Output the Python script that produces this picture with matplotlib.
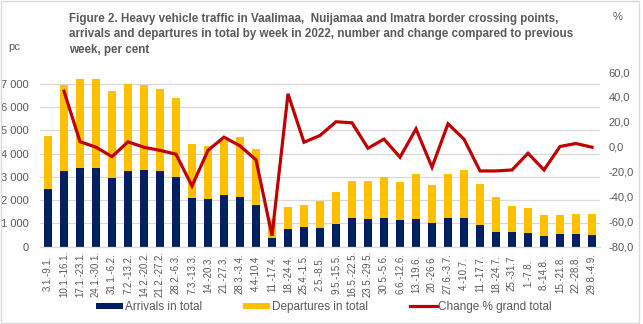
import numpy as np
import matplotlib
matplotlib.use("Agg")
import matplotlib.pyplot as plt
from matplotlib import font_manager
from matplotlib.ticker import FuncFormatter, MultipleLocator
from matplotlib.patches import Rectangle

weeks = ["3.1.-9.1.", "10.1.-16.1.", "17.1.-23.1.", "24.1.-30.1.", "31.1.-6.2.",
         "7.2.-13.2.", "14.2.-20.2.", "21.2.-27.2.", "28.2.-6.3.", "7.3.-13.3.",
         "14.-20.3.", "21.-27.3.", "28.3.-3.4.", "4.4-10.4", "11.-17.4.",
         "18.-24.4.", "25.4.-1.5.", "2.5.-8.5.", "9.5.-15.5.", "16.5.-22.5.",
         "23.5.-29.5.", "30.5.-5.6.", "6.6.-12.6.", "13.-19.6.", "20.-26.6",
         "27.6.-3.7.", "4.-10.7.", "11.-17.7.", "18.-24.7.", "25.-31.7",
         "1.-7.8.", "8.-14.8.", "15.-21.8.", "22.-28.8.", "29.8.-4.9."]

arrivals = [2490, 3230, 3400, 3400, 2970, 3230, 3310, 3270, 3010, 2070,
            2060, 2230, 2140, 1800, 370, 760, 840, 800, 970, 1230,
            1190, 1230, 1140, 1190, 1010, 1230, 1230, 930, 630, 630,
            580, 460, 540, 540, 500]

departures = [2280, 3730, 3810, 3810, 3730, 3770, 3650, 3520, 3390, 2350,
              2270, 2350, 2570, 2400, 820, 960, 950, 1160, 1380, 1610,
              1610, 1780, 1620, 1950, 1620, 1870, 2080, 1780, 1510, 1120,
              1080, 900, 820, 860, 900]

change_pct = [np.nan, 44.6, 4.2, -0.3, -7.8, 4.0, -0.3, -2.8, -5.9, -31.3,
              -2.8, 7.8, 0.8, -10.4, -71.2, 42.5, 3.7, 9.1, 20.1, 19.3,
              -1.1, 6.2, -8.3, 14.4, -16.3, 18.5, 6.2, -19.3, -19.3, -18.5,
              -5.1, -18.5, 0.3, 2.7, -0.3]

title_lines = ["Figure 2. Heavy vehicle traffic in Vaalimaa,  Nuijamaa and Imatra border crossing points,",
               "arrivals and departures in total by week in 2022, number and change compared to previous",
               "week, per cent"]

available = {f.name for f in font_manager.fontManager.ttflist}
def pick(*names):
    for n in names:
        if n in available:
            return n
    return "DejaVu Sans"

narrow = pick("Liberation Sans Narrow", "Liberation Sans", "DejaVu Sans")
regular = pick("Liberation Sans", "DejaVu Sans")

TXT = "#595959"
NAVY = "#002060"
GOLD = "#FFC000"
RED = "#C00000"
GRID = "#D9D9D9"

W, H = 643, 324
fig = plt.figure(figsize=(W / 100, H / 100), dpi=100)

def fx(px):
    return px / W

def fy(py):
    return 1 - py / H

ax = fig.add_axes([fx(40), fy(246.7), fx(600) - fx(40), fy(72) - fy(246.7)])
ax2 = ax.twinx()

x = np.arange(len(weeks))
b1 = ax.bar(x, arrivals, width=0.5, color=NAVY, label="Arrivals in total", zorder=2)
b2 = ax.bar(x, departures, width=0.5, bottom=arrivals, color=GOLD,
            label="Departures in total", zorder=2)
l1, = ax2.plot(x, change_pct, color=RED, lw=2.3, label="Change % grand total",
               solid_joinstyle="miter")

ax.set_xlim(-0.5, len(weeks) - 0.5)
ax.set_ylim(0, 7500)
ax2.set_ylim(-80, 60)
ax.set_yticks(np.arange(0, 7001, 1000))
ax2.yaxis.set_major_locator(MultipleLocator(20))

ax.yaxis.set_major_formatter(FuncFormatter(lambda v, p: f"{int(v):,}".replace(",", " ")))
ax2.yaxis.set_major_formatter(FuncFormatter(lambda v, p: f"{v:.1f}".replace(".", ",")))

ax.grid(axis="y", color=GRID, lw=0.9, zorder=0)
ax.set_axisbelow(True)
for a in (ax, ax2):
    for s in a.spines.values():
        s.set_visible(False)
ax.spines["bottom"].set_visible(True)
ax.spines["bottom"].set_color(GRID)
ax.spines["bottom"].set_linewidth(0.9)

ax.set_xticks(x)
ax.set_xticklabels(weeks, rotation=90, fontsize=7, color=TXT, family=regular)
ax.tick_params(axis="x", length=0, pad=19.5)
for t in ax.get_xticklabels():
    t.set_va("center")
ax.tick_params(axis="y", length=0, pad=8, labelsize=8, labelcolor=TXT)
ax2.tick_params(axis="y", length=0, pad=6, labelsize=8, labelcolor=TXT)
for t in ax.get_yticklabels() + ax2.get_yticklabels():
    t.set_family(regular)

for i, line in enumerate(title_lines):
    fig.text(fx(69), fy(22 + 15.5 * i), line, ha="left", va="baseline", fontsize=8.4,
             fontweight="bold", color=TXT, family=narrow)
fig.text(fx(8), fy(50), "pc", ha="left", va="baseline", fontsize=8, color=TXT, family=regular)
fig.text(fx(613), fy(20), "%", ha="left", va="baseline", fontsize=8, color=TXT, family=regular)

leg = fig.legend(handles=[b1, b2, l1], loc="center", bbox_to_anchor=(fx(324), fy(307)),
                 ncol=3, frameon=False, prop={"family": narrow, "size": 8.5},
                 handlelength=2.3, handleheight=0.45, handletextpad=0.15,
                 columnspacing=3.5, borderaxespad=0)
for t in leg.get_texts():
    t.set_color(TXT)

fig.patches.append(Rectangle((fx(0.5), fy(322.5)), fx(639) - fx(0.5), fy(0.5) - fy(322.5),
                             transform=fig.transFigure, fill=False, edgecolor="#D9D9D9", lw=1))

fig.savefig("out.png", dpi=100)
